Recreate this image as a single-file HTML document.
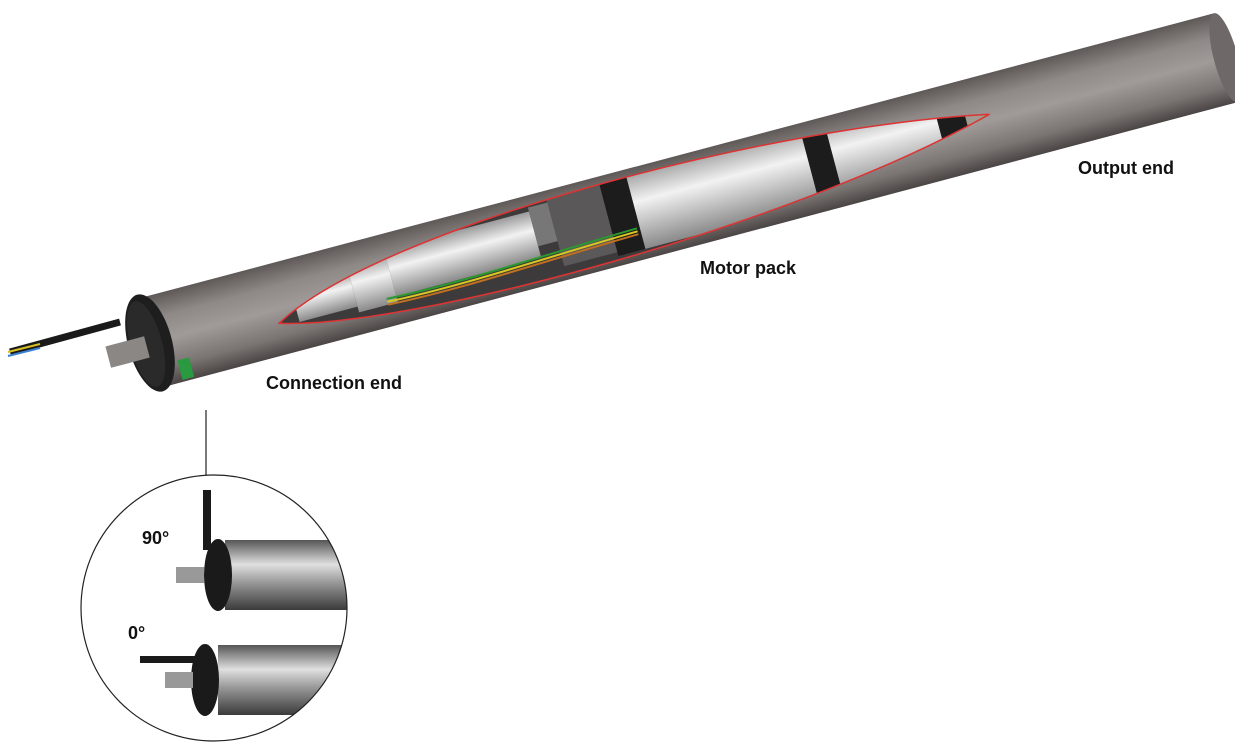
<!DOCTYPE html>
<html><head><meta charset="utf-8"><style>
html,body{margin:0;padding:0;background:#fff;width:1235px;height:748px;overflow:hidden}
.l{font-family:"Liberation Sans",sans-serif;font-weight:bold;font-size:18px;fill:#111}
</style></head><body>
<svg width="1235" height="748" viewBox="0 0 1235 748" xmlns="http://www.w3.org/2000/svg">
<defs>
<linearGradient id="tg" x1="0" y1="0" x2="0" y2="1">
<stop offset="0" stop-color="#5e5857"/><stop offset="0.25" stop-color="#8e8886"/><stop offset="0.5" stop-color="#a09a98"/><stop offset="0.8" stop-color="#7a7472"/><stop offset="1" stop-color="#4a4544"/></linearGradient>
<linearGradient id="wg" x1="0" y1="0" x2="0" y2="1">
<stop offset="0" stop-color="#9a9a9a"/><stop offset="0.4" stop-color="#f2f2f2"/><stop offset="1" stop-color="#8a8a8a"/></linearGradient>
<linearGradient id="sg" x1="0" y1="0" x2="0" y2="1">
<stop offset="0" stop-color="#555"/><stop offset="0.35" stop-color="#e0e0e0"/><stop offset="0.6" stop-color="#9a9a9a"/><stop offset="1" stop-color="#3a3a3a"/></linearGradient>
<clipPath id="cut"><path d="M130,14 C250,-52 650,-52 870,-6 C650,52 250,52 130,14 Z"/></clipPath>
<clipPath id="circ"><circle cx="214" cy="608" r="133"/></clipPath>
</defs>
<g transform="translate(150,343) rotate(-14.85)">
<rect x="0" y="-46" width="1113" height="92" fill="url(#tg)"/>
<ellipse cx="1113" cy="0" rx="12" ry="46" fill="#6e6968"/>
<g clip-path="url(#cut)">
<rect x="120" y="-60" width="770" height="120" fill="#3c3a3a"/>
<rect x="150" y="-18" width="60" height="36" fill="url(#wg)"/>
<rect x="210" y="-26" width="40" height="50" fill="url(#wg)"/>
<rect x="250" y="-30" width="150" height="48" fill="url(#wg)"/>
<rect x="400" y="-34" width="25" height="40" fill="#777"/>
<rect x="420" y="-40" width="60" height="72" fill="#5a5858"/>
<rect x="475" y="-44" width="28" height="80" fill="#1c1c1c"/>
<rect x="503" y="-44" width="180" height="80" fill="url(#wg)"/>
<rect x="683" y="-44" width="25" height="80" fill="#1c1c1c"/>
<rect x="708" y="-44" width="110" height="80" fill="url(#wg)"/>
<rect x="818" y="-44" width="28" height="80" fill="#1c1c1c"/>
<rect x="846" y="-30" width="30" height="50" fill="#a09a90"/>
<path d="M240,18 C320,22 400,16 500,14" stroke="#2a9a30" stroke-width="2" fill="none"/>
<path d="M240,21 C320,25 400,19 500,17" stroke="#d8c820" stroke-width="2" fill="none"/>
<path d="M240,24 C320,28 400,22 500,20" stroke="#c07020" stroke-width="2" fill="none"/>
</g>
<path d="M130,14 C250,-52 650,-52 870,-6 C650,52 250,52 130,14 Z" fill="none" stroke="#d33" stroke-width="1.5"/>
<ellipse cx="0" cy="0" rx="22" ry="50" fill="#1e1e1e"/>
<ellipse cx="-4" cy="0" rx="16" ry="44" fill="#2a2a2a"/>
<rect x="-44" y="-8" width="40" height="22" fill="#8a8784"/>
<rect x="22" y="24" width="12" height="20" fill="#2a9a40"/>
</g>
<path d="M10,352 L120,322" stroke="#1a1a1a" stroke-width="7"/>
<path d="M8,352 L40,344" stroke="#d8c020" stroke-width="2"/>
<path d="M8,356 L40,348" stroke="#3a80d0" stroke-width="2"/>
<text class="l" x="1078" y="174">Output end</text>
<text class="l" x="700" y="274">Motor pack</text>
<text class="l" x="266" y="389">Connection end</text>
<line x1="206" y1="410" x2="206" y2="475" stroke="#222" stroke-width="1.2"/>
<g clip-path="url(#circ)">
<rect x="80" y="475" width="270" height="270" fill="#fff"/>
<rect x="225" y="540" width="130" height="70" fill="url(#sg)"/>
<ellipse cx="218" cy="575" rx="14" ry="36" fill="#1a1a1a"/>
<rect x="203" y="490" width="8" height="60" fill="#1a1a1a"/>
<rect x="176" y="567" width="28" height="16" fill="#999"/>
<rect x="218" y="645" width="140" height="70" fill="url(#sg)"/>
<ellipse cx="205" cy="680" rx="14" ry="36" fill="#1a1a1a"/>
<rect x="140" y="656" width="70" height="7" fill="#1a1a1a"/>
<rect x="165" y="672" width="28" height="16" fill="#999"/>
</g>
<circle cx="214" cy="608" r="133" fill="none" stroke="#222" stroke-width="1.2"/>
<text class="l" x="142" y="544">90°</text>
<text class="l" x="128" y="639">0°</text>
</svg>
</body></html>
